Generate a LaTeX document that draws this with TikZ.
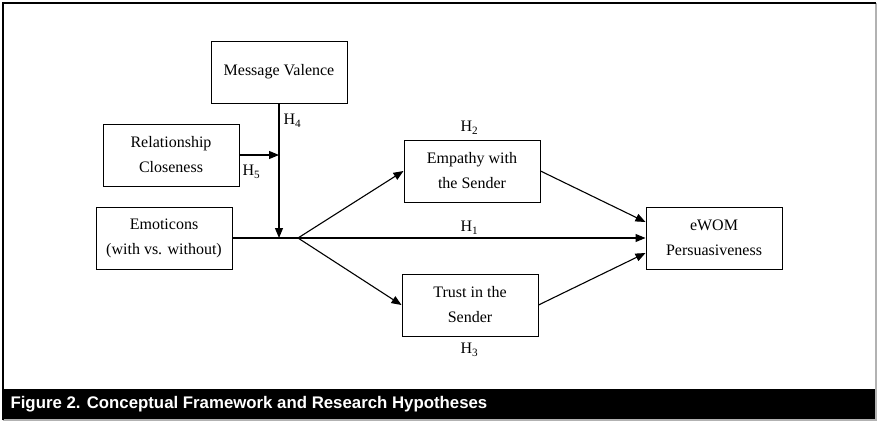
\documentclass[tikz,border=0pt]{standalone}
\usepackage{fontspec}
\setmainfont{Liberation Serif}
\newfontfamily\capfont{Liberation Sans}
\usetikzlibrary{arrows.meta}
\newcommand{\hyp}[1]{H\textsubscript{#1}}

\begin{document}
\begin{tikzpicture}[x=1pt,y=-1pt,line width=1.1pt,
  box/.style={draw,line width=1pt,minimum width=136pt,minimum height=62pt,align=center,
    font=\fontsize{16}{25}\selectfont},
  lab/.style={inner sep=0pt,font=\fontsize{16}{18}\selectfont},
  >={Triangle[length=10pt,width=8pt]}]
\useasboundingbox (0,0) rectangle (880,423);
% frame and caption bar
\draw[gray!60,line width=2pt] (876,3) -- (876,420) -- (3,420);
\draw[line width=2pt] (3,420) -- (3,3) -- (876,3);
\fill (4,389) rectangle (875,419);
\node[anchor=west,text=white,inner sep=0pt,font=\capfont\bfseries\fontsize{16.8}{20}\selectfont]
  (caption) at (10,404) {Figure 2. Conceptual Framework and Research Hypotheses};

% constructs
\node[box] (valence) at (279,72) {Message Valence};
\node[box] (close) at (171,155) {Relationship\\Closeness};
\node[box] (emo) at (164,238) {Emoticons\\(with vs. without)};
\node[box] (emp) at (472,171) {Empathy with\\the Sender};
\node[box] (trust) at (470,305) {Trust in the\\Sender};
\node[box] (ewom) at (714,238) {eWOM\\Persuasiveness};
\coordinate (split) at (298,238);

% paths
\draw (emo) -- (split);
\draw[->] (split) -- (ewom);
\draw[->] (split) -- (emp.west);
\draw[->] (split) -- (trust.west);
\draw[->] (emp.east) -- ([yshift=16pt]ewom.west);
\draw[->] (trust.east) -- ([yshift=-15pt]ewom.west);
\draw[->] (valence.south) -- (valence.south |- split);
\draw[->] (close.east) -- (close.east -| valence.south);

% hypotheses
\node[lab] (h1) at (469.5,228) {\hyp{1}};
\node[lab] (h2) at (469.5,128) {\hyp{2}};
\node[lab] (h3) at (469.5,350) {\hyp{3}};
\node[lab,anchor=west] (h4) at (283,121) {\hyp{4}};
\node[lab,anchor=west] (h5) at (242,172) {\hyp{5}};
\end{tikzpicture}
\end{document}
